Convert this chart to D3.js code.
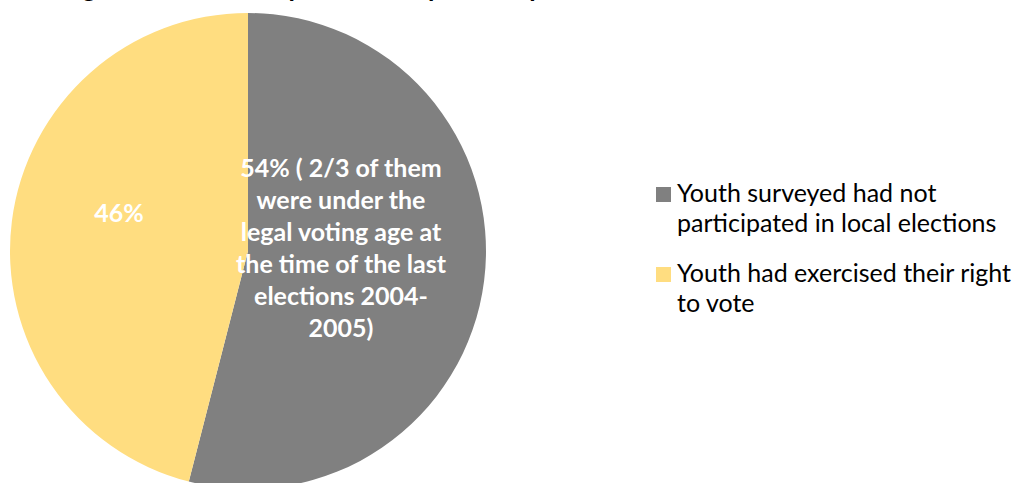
<!DOCTYPE html>
<html>
<head>
<meta charset="utf-8">
<script src="https://cdn.jsdelivr.net/npm/d3@7"></script>
<style>
  html, body { margin: 0; padding: 0; background: #ffffff; }
  svg { display: block; }
  text { font-family: Lato, "Open Sans", sans-serif; }
</style>
</head>
<body>
<svg id="chart" width="1013" height="483"></svg>
<script>
const categories = [
  "Youth surveyed had not participated in local elections",
  "Youth had exercised their right to vote"
];
const values = [54, 46];
const colors = ["#808080", "#FFDD80"];
const sliceLabels = [
  ["54% ( 2/3 of them", "were under the", "legal voting age at", "the time of the last", "elections 2004-", "2005)"],
  ["46%"]
];
const legendLines = [
  ["Youth surveyed had not", "participated in local elections"],
  ["Youth had exercised their right", "to vote"]
];
const titleText = "Voting habits and political participation";

const svg = d3.select("#chart");

// Title (cropped at the top edge in the reference)
svg.append("text")
  .attr("x", 2).attr("y", -3.5)
  .attr("font-size", 26).attr("font-weight", "bold")
  .attr("fill", "#000")
  .attr("textLength", 620).attr("lengthAdjust", "spacing")
  .text(titleText);

const cx = 248, cy = 251, r = 238;
const g = svg.append("g").attr("transform", `translate(${cx},${cy})`);

const pie = d3.pie().sort(null).value(d => d.v).startAngle(0);
const data = pie(values.map((v, i) => ({ v, i })));
const arc = d3.arc().innerRadius(0).outerRadius(r);

g.selectAll("path.slice").data(data).join("path")
  .attr("class", "slice")
  .attr("d", arc)
  .attr("fill", d => colors[d.data.i]);

// Data labels (first baseline offsets relative to the pie centre)
const labelPos = [[93, -74], [-129, -29]];
const lineH = 32;
data.forEach(d => {
  const lines = sliceLabels[d.data.i];
  const [lx, ly] = labelPos[d.data.i];
  const t = g.append("text")
    .attr("text-anchor", "middle")
    .attr("font-size", 25).attr("font-weight", "bold")
    .attr("fill", "#ffffff");
  lines.forEach((ln, k) => {
    t.append("tspan").attr("x", lx).attr("y", ly + k * lineH).text(ln);
  });
});

// Legend
const leg = svg.append("g");
const legY = [187, 267];
categories.forEach((c, i) => {
  leg.append("rect")
    .attr("x", 656).attr("y", legY[i])
    .attr("width", 15).attr("height", 15)
    .attr("fill", colors[i]);
  const t = leg.append("text")
    .attr("font-size", 25).attr("fill", "#000");
  legendLines[i].forEach((ln, k) => {
    t.append("tspan").attr("x", 677).attr("y", legY[i] + 15 + k * 30).text(ln);
  });
});
</script>
</body>
</html>
